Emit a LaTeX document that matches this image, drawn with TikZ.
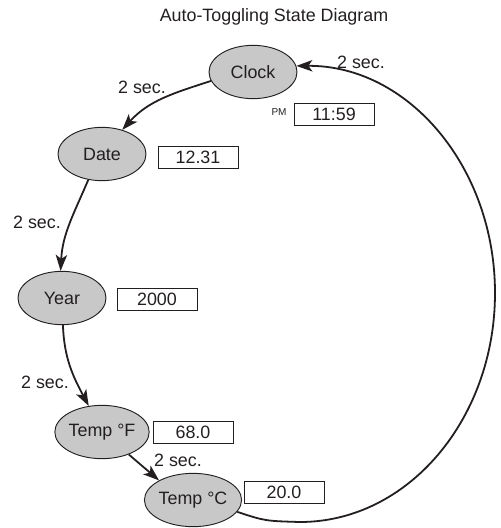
\documentclass[tikz,border=0pt]{standalone}
\usepackage{fontspec}
\setmainfont{Liberation Sans}
\usetikzlibrary{shapes.geometric,arrows.meta}
\definecolor{stategray}{RGB}{200,200,200}
\definecolor{ink}{RGB}{35,31,32}
\begin{document}
\begin{tikzpicture}[x=0.75pt,y=-0.75pt,
  every node/.style={text=ink,font=\fontsize{13.4}{15}\selectfont},
  state/.style={ellipse,draw=ink,line width=0.7pt,fill=stategray,minimum width=66pt,minimum height=40pt,inner sep=0pt},
  readout/.style={rectangle,draw=ink,line width=0.7pt,minimum width=60pt,minimum height=16.5pt,inner sep=0pt},
  lbl/.style={inner sep=0pt},
  arr/.style={draw=ink,line width=1.35pt,-{Stealth[length=12pt,width=8.5pt,inset=3pt]}}]
\useasboundingbox (0,0) rectangle (500,528);
\node[lbl] (title) at (274,17) {Auto-Toggling State Diagram};
% states
\node[state] (clock) at (253,72) {Clock};
\node[state] (date) at (102,154) {Date};
\node[state] (year) at (62,298) {Year};
\node[state] (tf) at (102,432) {Temp °F};
\node[state] (tc) at (193,500) {Temp °C};
% readouts
\node[readout] (b1159) at (334,114) {11:59};
\node[lbl,font=\fontsize{7.5}{8}\selectfont] (pm) at (279,112) {PM};
\node[readout] (b1231) at (198,157) {12.31};
\node[readout] (b2000) at (157,299) {2000};
\node[readout] (b680) at (193,432) {68.0};
\node[readout] (b200) at (284,492) {20.0};
% labels
\node[lbl] (l1) at (142,87) {2 sec.};
\node[lbl] (l2) at (37,222) {2 sec.};
\node[lbl] (l3) at (45,382) {2 sec.};
\node[lbl] (l4) at (178,460) {2 sec.};
\node[lbl] (l5) at (361,62) {2 sec.};
% connectors
\draw[arr] (clock.192) to[out=198,in=48] (date.50);
\draw[arr] (date.242) to[out=247,in=87] (year.93);
\draw[arr] (year.272) to[out=272,in=118] (tf.117);
\draw[arr] (tf.-40) -- (tc.150);
\coordinate (bot) at (300,522);
\coordinate (rgt) at (495,293);
\draw[arr] (tc.-15) .. controls (265,521) .. (bot)
  .. controls (408,522) and (495,419) .. (rgt)
  .. controls (495,167) and (408,65) .. (clock.8);
\end{tikzpicture}
\end{document}
